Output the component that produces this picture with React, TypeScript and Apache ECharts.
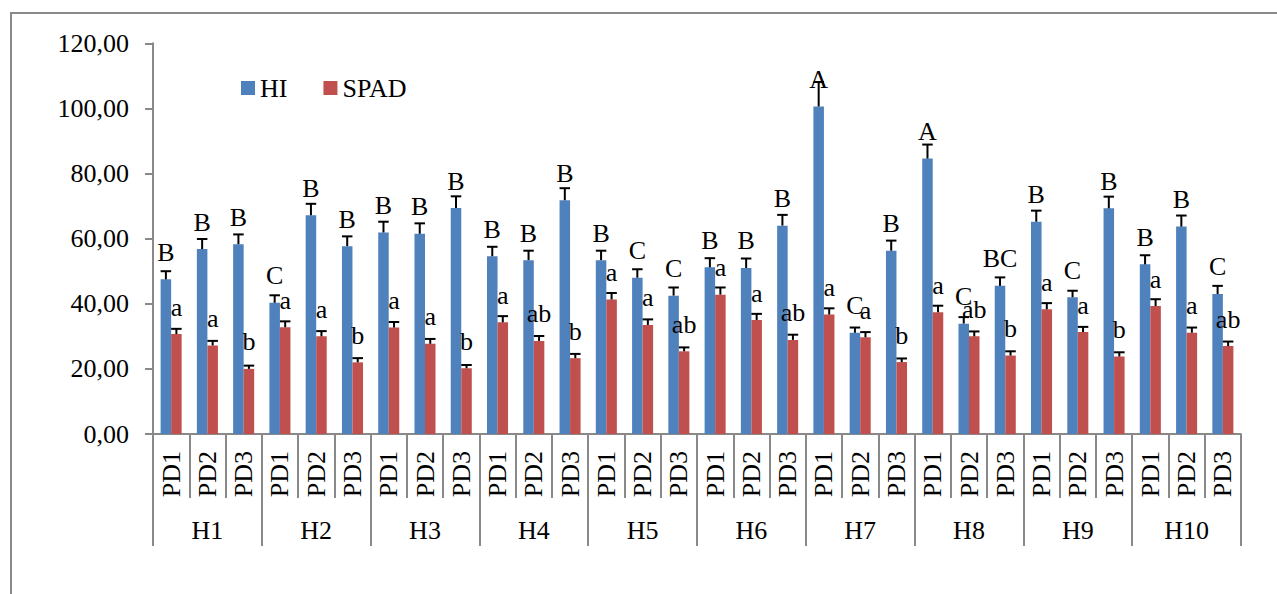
import React, { useEffect, useRef } from "react";
import * as echarts from "echarts";

const groups = ["H1", "H2", "H3", "H4", "H5", "H6", "H7", "H8", "H9", "H10"];
const dates = ["PD1", "PD2", "PD3"];
const categories = groups.flatMap(() => dates);

const hiValues = [47.5, 56.8, 58.3, 40.3, 67.2, 57.7, 61.9, 61.5, 69.4, 54.6, 53.4, 71.8, 53.4, 48.0, 42.5, 51.2, 51.0, 64.0, 100.6, 31.1, 56.3, 84.6, 33.9, 45.5, 65.2, 42.0, 69.3, 52.1, 63.7, 43.0];
const hiErrors = [2.5, 3.1, 3.0, 2.3, 3.5, 3.0, 3.3, 3.2, 3.6, 2.9, 2.9, 3.7, 2.9, 2.6, 2.5, 2.8, 2.9, 3.3, 7.5, 1.6, 3.1, 4.3, 2.0, 2.6, 3.4, 2.0, 3.6, 2.8, 3.4, 2.5];
const hiLetters = ["B", "B", "B", "C", "B", "B", "B", "B", "B", "B", "B", "B", "B", "C", "C", "B", "B", "B", "A", "C", "B", "A", "C", "BC", "B", "C", "B", "B", "B", "C"];

const spadValues = [30.7, 27.2, 20.0, 32.8, 30.0, 22.0, 32.7, 27.7, 20.2, 34.3, 28.6, 23.3, 41.3, 33.5, 25.4, 42.8, 35.0, 28.9, 36.7, 29.7, 22.1, 37.4, 30.0, 24.1, 38.3, 31.3, 23.8, 39.3, 31.1, 27.0];
const spadErrors = [1.6, 1.4, 1.0, 1.8, 1.6, 1.3, 1.7, 1.5, 1.0, 1.9, 1.5, 1.3, 2.0, 1.7, 1.2, 2.2, 1.9, 1.6, 1.9, 1.6, 1.1, 2.0, 1.5, 1.3, 1.9, 1.6, 1.3, 2.1, 1.6, 1.4];
const spadLetters = ["a", "a", "b", "a", "a", "b", "a", "a", "b", "a", "ab", "b", "a", "a", "ab", "a", "a", "ab", "a", "a", "b", "a", "ab", "b", "a", "a", "b", "a", "a", "ab"];

const yTicks = [0, 20, 40, 60, 80, 100, 120];

const FONT = "'Liberation Serif', 'Times New Roman', serif";
const FS = 26;
const BLUE = "#4F81BD";
const RED = "#C0504D";
const GRAY = "#898989";
const BAR_GAP = 0.42;

function makeErrSeries(name: string, values: number[], errs: number[], letters: string[], side: number) {
  return {
    type: "custom",
    name,
    xAxisIndex: 0,
    z: 5,
    encode: { x: 0, y: 1 },
    data: values.map((v, i) => [i, v, errs[i], letters[i]]),
    renderItem: (params: any, api: any) => {
      const idx = api.value(0);
      const v = api.value(1);
      const e = api.value(2);
      const letter = letters[params.dataIndex];
      const base = api.coord([idx, v]);
      const top = api.coord([idx, v + e]);
      const catW = api.size([1, 0])[0];
      const bw = (catW * (1 - BAR_GAP)) / 2;
      const x = base[0] + (side * bw) / 2;
      const capHalf = bw / 2;
      return {
        type: "group",
        children: [
          {
            type: "line",
            shape: { x1: x, y1: base[1], x2: x, y2: top[1] },
            style: { stroke: "#000", lineWidth: 2 },
          },
          {
            type: "line",
            shape: { x1: x - capHalf, y1: top[1], x2: x + capHalf, y2: top[1] },
            style: { stroke: "#000", lineWidth: 2 },
          },
          {
            type: "text",
            x: x,
            y: base[1] - 14,
            style: {
              text: letter,
              fill: "#000",
              font: `${FS}px ${FONT}`,
              align: "center",
              verticalAlign: "bottom",
            },
          },
        ],
      };
    },
  };
}

export default function App() {
  const ref = useRef<HTMLDivElement>(null);

  useEffect(() => {
    if (!ref.current) return;
    const chart = echarts.init(ref.current, null, { renderer: "svg" });
    chart.setOption({
      animation: false,
      backgroundColor: "#fff",
      textStyle: { fontFamily: FONT },
      graphic: [
        {
          type: "rect",
          shape: { x: 11, y: 13, width: 1400, height: 800 },
          style: { fill: "none", stroke: GRAY, lineWidth: 2 },
          z: 0,
        },
      ],
      legend: {
        data: ["HI", "SPAD"],
        left: 236,
        top: 70,
        icon: "rect",
        itemWidth: 14,
        itemHeight: 14,
        itemGap: 36,
        textStyle: { fontSize: FS, fontFamily: FONT, color: "#000" },
      },
      grid: { left: 153, right: 36, top: 43.3, bottom: 160, containLabel: false },
      xAxis: [
        {
          type: "category",
          data: categories,
          position: "bottom",
          axisLine: { show: true, lineStyle: { color: GRAY, width: 2 } },
          axisTick: { show: true, interval: 0, length: 64, lineStyle: { color: GRAY, width: 2 } },
          axisLabel: {
            interval: 0,
            rotate: 90,
            margin: 17,
            fontSize: FS,
            fontFamily: FONT,
            color: "#000",
          },
        },
        {
          type: "category",
          data: groups,
          position: "bottom",
          axisLine: { show: false },
          axisTick: { show: true, interval: 0, length: 112, lineStyle: { color: GRAY, width: 2 } },
          axisLabel: {
            interval: 0,
            margin: 83,
            fontSize: FS,
            fontFamily: FONT,
            color: "#000",
          },
        },
      ],
      yAxis: {
        type: "value",
        min: yTicks[0],
        max: yTicks[yTicks.length - 1],
        interval: 20,
        splitLine: { show: false },
        axisLine: { show: true, lineStyle: { color: GRAY, width: 2 } },
        axisTick: { show: true, length: 8, lineStyle: { color: GRAY, width: 2 } },
        axisLabel: {
          margin: 24,
          fontSize: FS,
          fontFamily: FONT,
          color: "#000",
          formatter: (v: number) => v.toFixed(2).replace(".", ","),
        },
      },
      series: [
        {
          type: "bar",
          name: "HI",
          xAxisIndex: 0,
          data: hiValues,
          itemStyle: { color: BLUE },
          barGap: "0%",
          barCategoryGap: BAR_GAP * 100 + "%",
        },
        {
          type: "bar",
          name: "SPAD",
          xAxisIndex: 0,
          data: spadValues,
          itemStyle: { color: RED },
          barGap: "0%",
          barCategoryGap: BAR_GAP * 100 + "%",
        },
        makeErrSeries("HI err", hiValues, hiErrors, hiLetters, -1),
        makeErrSeries("SPAD err", spadValues, spadErrors, spadLetters, 1),
      ],
    });
    return () => chart.dispose();
  }, []);

  return (
    <div
      ref={ref}
      style={{ position: "absolute", left: 0, top: 0, width: 1277, height: 594 }}
    />
  );
}
